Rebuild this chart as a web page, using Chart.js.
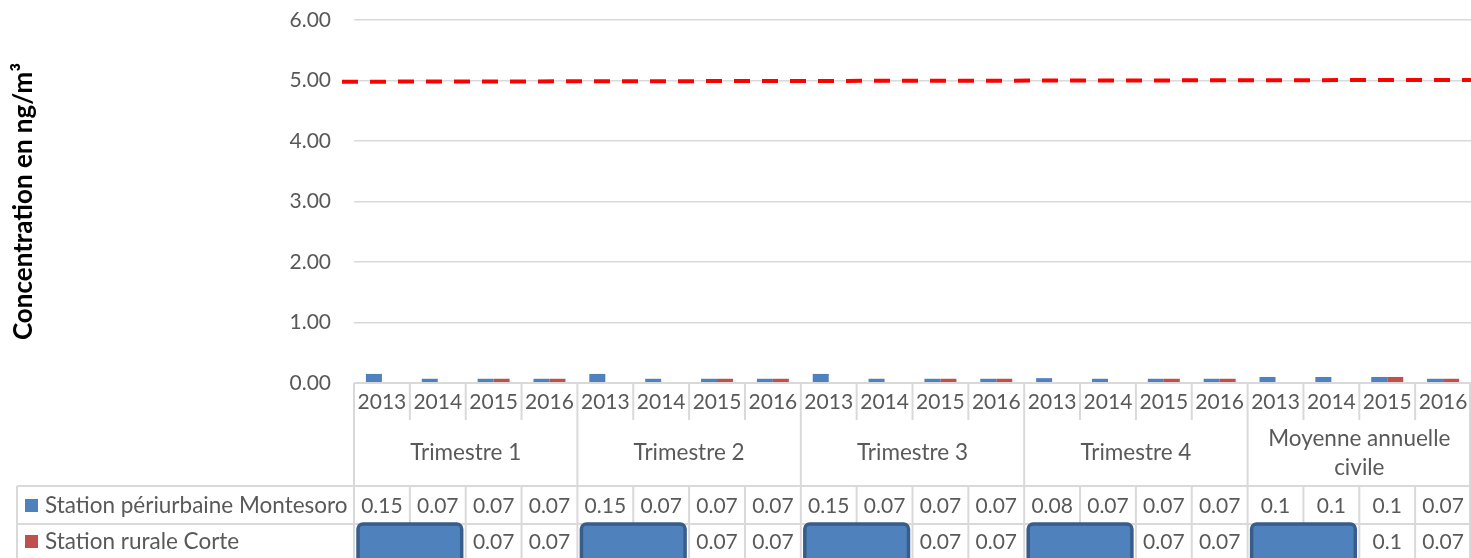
<!DOCTYPE html>
<html>
<head>
<meta charset="utf-8">
<script src="https://cdn.jsdelivr.net/npm/chart.js@4.4.1/dist/chart.umd.min.js"></script>
<style>
  html, body { margin: 0; padding: 0; background: #fff; }
  canvas { display: block; }
</style>
</head>
<body>
<canvas id="chart" width="1471" height="558"></canvas>
<script>
// --- data ---
const years = ["2013", "2014", "2015", "2016"];
const groups = [["Trimestre 1"], ["Trimestre 2"], ["Trimestre 3"], ["Trimestre 4"], ["Moyenne annuelle", "civile"]];
const seriesNames = ["Station périurbaine Montesoro", "Station rurale Corte"];
const montesoro = [0.15, 0.07, 0.07, 0.07,  0.15, 0.07, 0.07, 0.07,  0.15, 0.07, 0.07, 0.07,  0.08, 0.07, 0.07, 0.07,  0.1, 0.1, 0.1, 0.07];
const corte     = [null, null, 0.07, 0.07,  null, null, 0.07, 0.07,  null, null, 0.07, 0.07,  null, null, 0.07, 0.07,  null, null, 0.1, 0.07];
const limitLine = [4.98, 5.01];   // hand drawn target line (start, end), slightly tilted
const yTitle = "Concentration en ng/m³";

const FONT = "Lato, 'Open Sans', sans-serif";
const TXT = "#595959";
const GRID = "#D9D9D9";
const COLORS = ["#4F81BD", "#C0504D"];

const labels = groups.flatMap(g => years.map(y => g[0] + " " + y));

const $ = (sel) => document.querySelector(sel);

// red dashed limit line, drawn over the bars
const limitPlugin = {
  id: "limit",
  afterDatasetsDraw(chart) {
    const { ctx, chartArea: a, scales: { y } } = chart;
    ctx.save();
    ctx.strokeStyle = "#FF0000";
    ctx.lineWidth = 4;
    ctx.setLineDash([16, 12]);
    ctx.beginPath();
    ctx.moveTo(a.left - 12, y.getPixelForValue(limitLine[0]));
    ctx.lineTo(chart.width, y.getPixelForValue(limitLine[1]));
    ctx.stroke();
    ctx.restore();
  }
};

// Excel-like data table under the plot
const tablePlugin = {
  id: "dataTable",
  afterDraw(chart) {
    const { ctx, chartArea: a } = chart;
    const n = labels.length;
    const w = (a.right - a.left) / n;
    const edge = i => a.left + i * w;
    const top = a.bottom, yearBot = top + 37, groupBot = top + 103, row1Bot = top + 141, bottom = chart.height + 2;
    const legLeft = 17;

    ctx.save();
    ctx.strokeStyle = GRID;
    ctx.lineWidth = 2;
    const line = (x1, y1, x2, y2) => { ctx.beginPath(); ctx.moveTo(x1, y1); ctx.lineTo(x2, y2); ctx.stroke(); };

    line(a.left, top, a.right, top);
    line(legLeft, groupBot, a.right, groupBot);
    line(legLeft, row1Bot, a.right, row1Bot);
    line(legLeft, groupBot, legLeft, bottom);
    for (let i = 0; i <= n; i++) {
      const x = Math.min(edge(i), chart.width - 1);
      if (i % years.length === 0) {
        line(x, top, x, bottom);
      } else {
        line(x, top, x, yearBot);
        line(x, groupBot, x, bottom);
      }
    }

    ctx.fillStyle = TXT;
    ctx.textAlign = "center";
    ctx.textBaseline = "middle";
    const fmt = v => v === null ? "" : String(v);
    ctx.font = "21px " + FONT;
    for (let i = 0; i < n; i++) {
      const cx = edge(i) + w / 2;
      ctx.fillText(years[i % years.length], cx, top + 19);
      ctx.fillText(fmt(montesoro[i]), cx, groupBot + 20);
      ctx.fillText(fmt(corte[i]), cx, row1Bot + 18);
    }
    ctx.font = "22.5px " + FONT;
    groups.forEach((g, gi) => {
      const cx = edge(gi * years.length) + w * years.length / 2;
      const mid = (yearBot + groupBot) / 2;
      g.forEach((t, k) => ctx.fillText(t, cx, mid + (k - (g.length - 1) / 2) * 29));
    });

    // legend keys in the row headers
    ctx.textAlign = "left";
    [groupBot + 20, row1Bot + 18].forEach((cy, si) => {
      ctx.fillStyle = COLORS[si];
      ctx.fillRect(25, cy - 7, 13, 13);
      ctx.fillStyle = TXT;
      ctx.fillText(seriesNames[si], 45, cy);
    });

    // blue masking boxes over the first two Corte cells of each group
    groups.forEach((g, gi) => {
      const x1 = edge(gi * years.length) + 4;
      const x2 = edge(gi * years.length + 2) - 4;
      const y1 = row1Bot;
      const y2 = chart.height + 6;
      ctx.beginPath();
      ctx.roundRect(x1, y1, x2 - x1, y2 - y1, 5);
      ctx.fillStyle = COLORS[0];
      ctx.fill();
      ctx.lineWidth = 3.5;
      ctx.strokeStyle = "#385D8A";
      ctx.stroke();
    });
    ctx.restore();
  }
};

new Chart($("#chart").getContext("2d"), {
  type: "bar",
  data: {
    labels,
    datasets: [
      { label: seriesNames[0], data: montesoro, backgroundColor: COLORS[0] },
      { label: seriesNames[1], data: corte, backgroundColor: COLORS[1] }
    ]
  },
  options: {
    responsive: false,
    animation: false,
    layout: { padding: { top: 20, right: 0, bottom: 0, left: 0 } },
    datasets: { bar: { categoryPercentage: 0.573, barPercentage: 1.0 } },
    plugins: { legend: { display: false }, tooltip: { enabled: false } },
    scales: {
      x: {
        ticks: { display: false },
        grid: { display: false },
        border: { display: false },
        afterFit: s => { s.height = 175; s.paddingLeft = 0; s.paddingRight = 0; }
      },
      y: {
        min: 0, max: 6,
        ticks: { stepSize: 1, padding: 23, color: TXT, font: { family: FONT, size: 21 }, callback: v => v.toFixed(2) },
        grid: { color: GRID, lineWidth: 1.5, drawTicks: false },
        border: { display: false },
        title: { display: true, text: yTitle, color: "#000", font: { family: FONT, size: 26, weight: "bold" }, padding: { top: 8, bottom: 0 } },
        afterFit: s => { s.width = 354; s.paddingTop = 0; s.paddingBottom = 0; }
      }
    }
  },
  plugins: [limitPlugin, tablePlugin]
});
</script>
</body>
</html>
